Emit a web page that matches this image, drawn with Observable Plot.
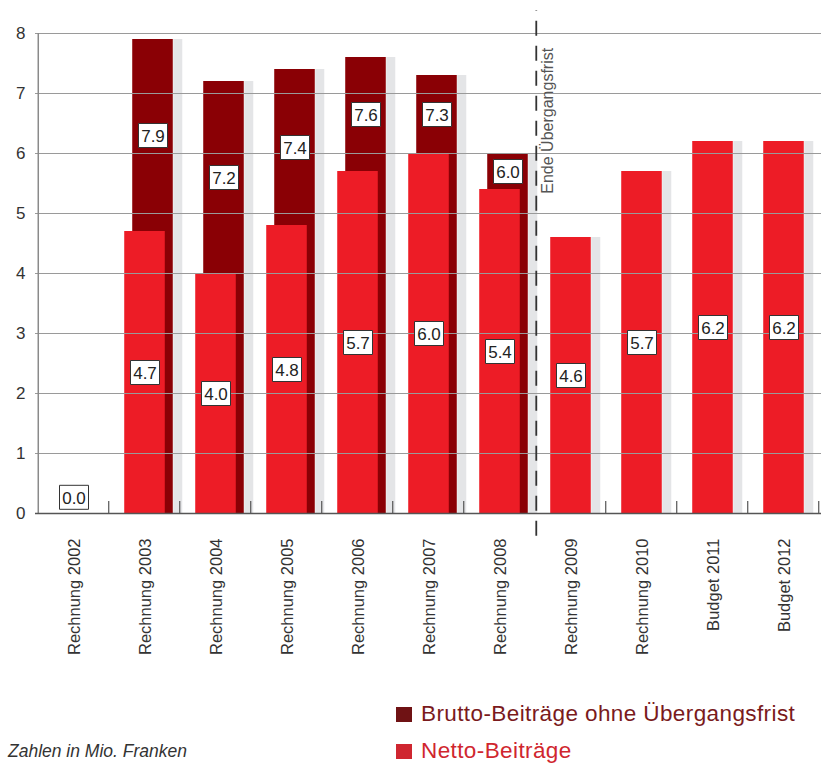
<!DOCTYPE html>
<html>
<head>
<meta charset="utf-8">
<script src="https://cdn.jsdelivr.net/npm/d3@7"></script>
<script src="https://cdn.jsdelivr.net/npm/@observablehq/plot@0.6"></script>
<style>
  html, body { margin: 0; padding: 0; background: #fff; }
  #wrap { position: relative; width: 821px; height: 765px; font-family: "Liberation Sans", Arial, sans-serif; }
  #chart { position: absolute; left: 0; top: 0; }
  .leg { position: absolute; display: flex; align-items: center; font-size: 22.5px; letter-spacing: 0.4px; white-space: nowrap; }
  .sw { width: 16px; height: 15px; margin-right: 9px; }
  #note { position: absolute; left: 8px; top: 741px; font-size: 17.5px; font-style: italic; color: #333; }
</style>
</head>
<body>
<div id="wrap">
  <div id="chart"></div>
  <div class="leg" id="leg0" style="left:396px; top:701px;"></div>
  <div class="leg" id="leg1" style="left:396px; top:738px;"></div>
  <div id="note"></div>
</div>
<script>
const categories = ["Rechnung 2002", "Rechnung 2003", "Rechnung 2004", "Rechnung 2005", "Rechnung 2006", "Rechnung 2007", "Rechnung 2008", "Rechnung 2009", "Rechnung 2010", "Budget 2011", "Budget 2012"];
const netto  = [0.0, 4.7, 4.0, 4.8, 5.7, 6.0, 5.4, 4.6, 5.7, 6.2, 6.2];
const brutto = [null, 7.9, 7.2, 7.4, 7.6, 7.3, 6.0, null, null, null, null];
const yTicks = [0, 1, 2, 3, 4, 5, 6, 7, 8];
const seriesNames = ["Brutto-Beiträge ohne Übergangsfrist", "Netto-Beiträge"];
const markerCategory = "Rechnung 2009";
const markerLabel = "Ende Übergangsfrist";
const unitNote = "Zahlen in Mio. Franken";

const colBrutto = "#8a0005";
const colNetto = "#ed1c26";
const colShadow = "#e4e5e7";
const legendSwatch = ["#6f1214", "#cf2630"];
const legendText = ["#7a1a1c", "#d0262e"];

const W = 821, H = 680, ML = 35, MR = 0, MT = 33, MB = 167;
const band = (W - ML - MR) / categories.length;
const barW = 41;
const inset = (band - barW) / 2;
const shW = 9.5;
const shInset = (band - shW) / 2;
const bOff = 8;

const rows = categories.map((c, i) => ({cat: c, netto: netto[i], brutto: brutto[i]}));
const bruttoRows = rows.filter(d => d.brutto != null);
const nettoOnly = rows.filter(d => d.brutto == null && d.netto > 0);
const fmt = d3.format(".1f");

const boxSymbol = {
  draw(ctx) {
    ctx.moveTo(-14.5, -12); ctx.lineTo(14.5, -12); ctx.lineTo(14.5, 12); ctx.lineTo(-14.5, 12); ctx.closePath();
  }
};

const nettoLabels = rows.map(d => ({cat: d.cat, y: d.netto > 0 ? d.netto / 2 : 0.27, text: fmt(d.netto)}));
const bruttoLabels = bruttoRows.map(d => ({cat: d.cat, y: (d.netto + d.brutto) / 2, text: fmt(d.brutto)}));

const chart = Plot.plot({
  width: W, height: H,
  marginLeft: ML, marginRight: MR, marginTop: MT, marginBottom: MB,
  style: {fontFamily: "'Liberation Sans', Arial, sans-serif", background: "transparent"},
  x: {type: "band", domain: categories, padding: 0, axis: null},
  y: {domain: [0, 8], axis: null},
  marks: [
    Plot.barY(bruttoRows, {x: "cat", y: "brutto", fill: colShadow, insetLeft: shInset, insetRight: shInset, dx: bOff + barW / 2 + shW / 2}),
    Plot.barY(nettoOnly, {x: "cat", y: "netto", fill: colShadow, insetLeft: shInset, insetRight: shInset, dx: barW / 2 + shW / 2}),
    Plot.barY(bruttoRows, {x: "cat", y: "brutto", fill: colBrutto, insetLeft: inset, insetRight: inset, dx: bOff}),
    Plot.barY(rows.filter(d => d.netto > 0), {x: "cat", y: "netto", fill: colNetto, insetLeft: inset, insetRight: inset}),
    Plot.ruleY(yTicks.filter(v => v > 0), {y: d => d, stroke: "#9a9a9a", strokeWidth: 1}),
    Plot.ruleX([categories[0]], {x: d => d, dx: -band / 2, y1: 0, y2: 8, stroke: "#8a8a8a", strokeWidth: 1.5}),
    Plot.ruleY([0], {stroke: "#555", strokeWidth: 1.5}),
    Plot.ruleX(categories.filter(c => c !== categories[6]), {x: d => d, dx: band / 2 - 1, y1: 0, y2: 0.2, stroke: "#555", strokeWidth: 1.2}),
    Plot.text(yTicks, {y: d => d, text: d => String(d), frameAnchor: "left", dx: -10, textAnchor: "end", fontSize: 17, fill: "#333"}),
    Plot.text(categories, {x: d => d, y: 0, text: d => d, rotate: -90, textAnchor: "end", lineAnchor: "middle", dy: 25, dx: 1, fontSize: 16.5, fill: "#333"}),
    Plot.ruleX([markerCategory], {x: d => d, dx: -band / 2 + 1, y1: -0.38, y2: 8.38, stroke: "#333", strokeWidth: 1.8, strokeDasharray: "15,10"}),
    Plot.text([markerLabel], {x: () => markerCategory, y: 5.33, text: d => d, rotate: -90, textAnchor: "start", lineAnchor: "middle", dx: -23, fontSize: 16, fill: "#555"}),
    Plot.dot(nettoLabels, {x: "cat", y: "y", symbol: boxSymbol, r: 5, fill: "white", stroke: "#333", strokeWidth: 1}),
    Plot.text(nettoLabels, {x: "cat", y: "y", text: "text", fontSize: 17, fill: "#222", dy: 1}),
    Plot.dot(bruttoLabels, {x: "cat", y: "y", symbol: boxSymbol, r: 5, fill: "white", stroke: "#333", strokeWidth: 1, dx: bOff}),
    Plot.text(bruttoLabels, {x: "cat", y: "y", text: "text", fontSize: 17, fill: "#222", dx: bOff, dy: 1})
  ]
});
document.getElementById("chart").appendChild(chart);

seriesNames.forEach((name, i) => {
  const el = document.getElementById("leg" + i);
  const sw = document.createElement("span");
  sw.className = "sw";
  sw.style.background = legendSwatch[i];
  const tx = document.createElement("span");
  tx.textContent = name;
  tx.style.color = legendText[i];
  el.appendChild(sw);
  el.appendChild(tx);
});
document.getElementById("note").textContent = unitNote;
</script>
</body>
</html>
